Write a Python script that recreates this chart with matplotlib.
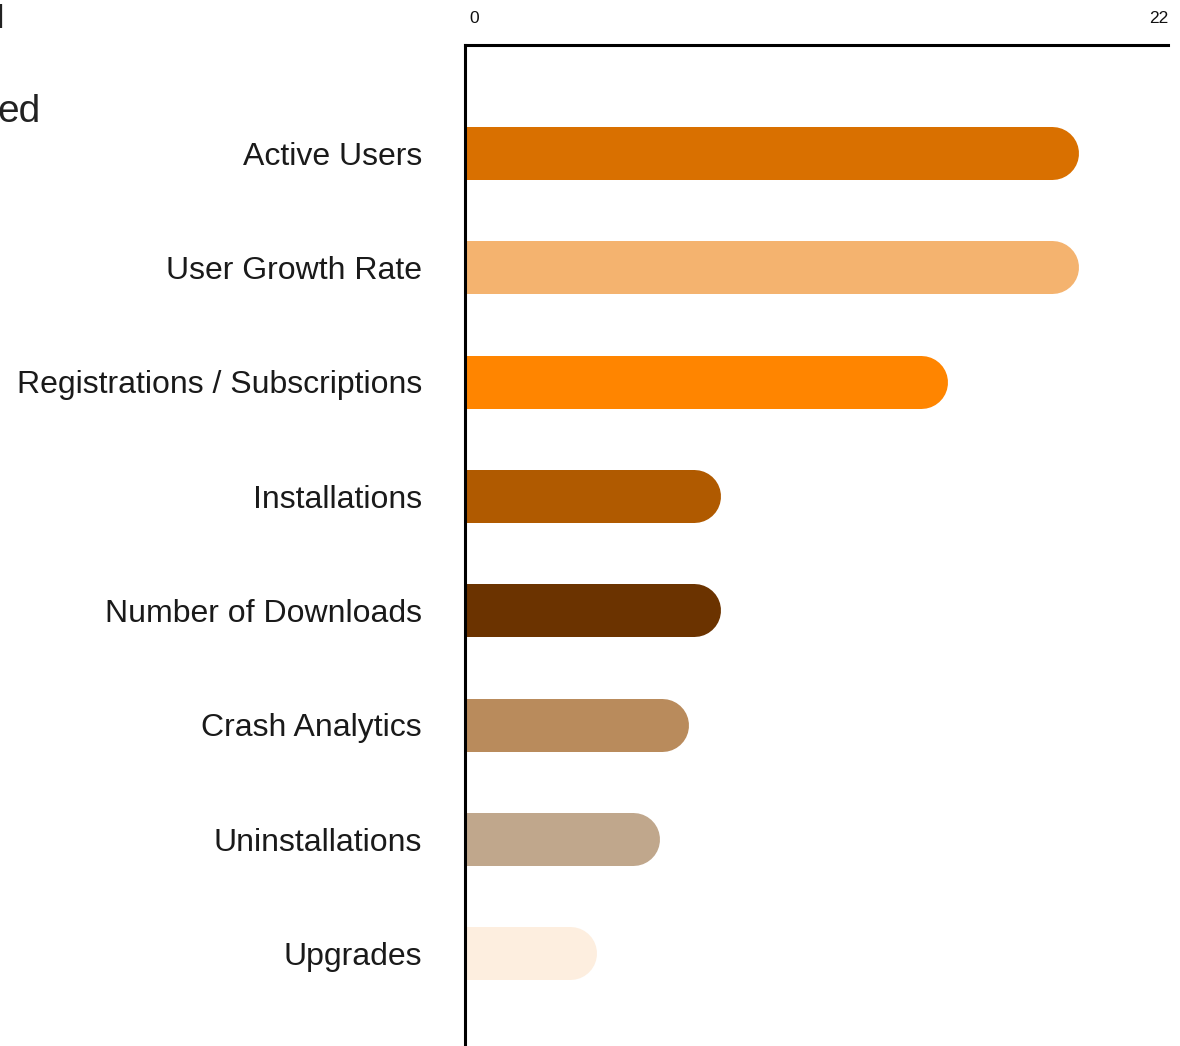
import matplotlib
matplotlib.use("Agg")
import matplotlib.pyplot as plt
from matplotlib.transforms import ScaledTranslation

categories = ["Active Users", "User Growth Rate", "Registrations / Subscriptions",
              "Installations", "Number of Downloads", "Crash Analytics",
              "Uninstallations", "Upgrades"]
values = [19.2, 19.2, 15.1, 8, 8, 7, 6.1, 4.1]
colors = ["#D97000", "#F4B36F", "#FF8500", "#B05A00", "#6B3300", "#B98B5C",
          "#C0A78C", "#FDEEDF"]
x_ticks = [0, 22]

plt.rcParams['font.family'] = ['Liberation Sans', 'DejaVu Sans']

W, H = 1180, 1046
fig = plt.figure(figsize=(W / 100, H / 100), dpi=100)
ax_left, ax_right, ax_top, ax_bottom = 465, 1168, 45, 1046
ax = fig.add_axes([ax_left / W, (H - ax_bottom) / H, (ax_right - ax_left) / W,
                   (ax_bottom - ax_top) / H])

ax.set_xlim(0, 22)
ax.set_ylim(7.81, -0.945)

bar_px = 53
px_per_unit = (ax_right - ax_left) / 22
r_data = (bar_px / 2) / px_per_unit
lw_pt = bar_px * 72 / 100
for i, (v, c) in enumerate(zip(values, colors)):
    ax.plot([0, v - r_data], [i, i], color=c, lw=lw_pt, solid_capstyle='round',
            zorder=2)

ax.set_yticks(range(len(categories)))
ax.set_yticklabels(categories, fontsize=23, color="#1a1a1a")
ax.tick_params(axis='y', length=0, pad=31)

ax.xaxis.tick_top()
ax.set_xticks(x_ticks)
ax.set_xticklabels([str(t) for t in x_ticks], fontsize=12.5, color="#111111")
ax.tick_params(axis='x', length=0, pad=14)
tl = ax.get_xticklabels()
tl[0].set_ha('left')
tl[0].set_transform(tl[0].get_transform() + ScaledTranslation(3 / 72, 0, fig.dpi_scale_trans))
tl[1].set_ha('right')

for s in ['right', 'bottom']:
    ax.spines[s].set_visible(False)
for s in ['left', 'top']:
    ax.spines[s].set_linewidth(2.2)
    ax.spines[s].set_color("#000000")
    ax.spines[s].set_zorder(3)

fig.text(-0.003, 1 - 20 / H, "l", fontsize=24, color="#222222", va='center', ha='left')
fig.text(-0.002, 1 - 112 / H, "ed", fontsize=28, color="#222222", va='center', ha='left')

fig.savefig("out.png", dpi=100)
